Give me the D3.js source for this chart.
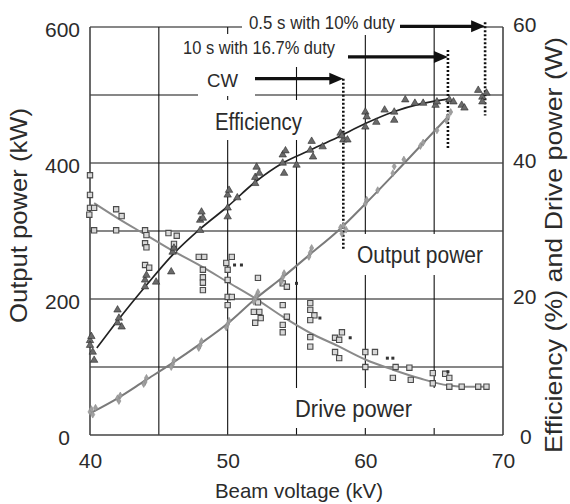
<!DOCTYPE html>
<html>
<head>
<meta charset="UTF-8">
<title>Beam voltage chart</title>
<script src="https://d3js.org/d3.v7.min.js"></script>
<style>
  body { margin: 0; background: #fff; }
  svg { display: block; font-family: "Liberation Sans", Arial, sans-serif; }
  text { fill: #2b2b2b; }
</style>
</head>
<body>
<svg width="570" height="504"></svg>
<script>
// beam voltage (kV) ticks and axis ticks
var xTicks = [40, 50, 60, 70];
var yLeftTicks = [0, 200, 400, 600];
var yRightTicks = [0, 20, 40, 60];

// fitted curves: [kV, value]
var effFit = [[40.5, 12.8], [42, 16.8], [44, 21.8], [46, 26.5], [48, 30.3], [50, 33.6], [52, 37.2],
  [54, 40.0], [56, 41.9], [58, 43.8], [60, 45.8], [62, 47.5], [64, 48.7], [66, 49.4]];
var outFit = [[40.2, 34], [42, 54], [44, 80], [46, 106], [48, 134], [50, 164], [52, 200], [54, 232],
  [56, 266], [58, 300], [60, 340], [62, 382], [64, 425], [66, 468]];
var driveFit = [[40.3, 34.1], [42, 31.9], [44, 29.5], [46, 27.1], [48, 24.9], [50, 22.5], [52, 20.1],
  [54, 17.4], [56, 15.0], [58, 13.1], [60, 11.1], [62, 9.6], [64, 8.3], [66, 7.3], [67, 7.1], [68.8, 7.1]];

// measured points
var effPts = [[40, 13.9], [40, 13.2], [40.2, 12.2], [40.3, 11.0], [40.1, 14.5],
  [42, 18.4], [42, 16.5], [42.3, 15.9], [42.1, 17.2],
  [44, 22.8], [44, 21.8], [44.8, 22.5], [44.1, 23.5],
  [46, 26.9], [45.9, 24.0], [46.1, 27.5],
  [48, 31.6], [48, 30.1], [48.2, 31.9], [48.1, 32.8],
  [50, 35.3], [50, 33.4], [50, 32.1], [50.7, 34.9], [50.1, 36.0],
  [52, 37.9], [52, 37.0], [52.1, 39.4], [52.3, 38.5],
  [54, 41.2], [54, 40.0], [54.1, 38.5], [54.2, 41.8], [55, 39.7],
  [56, 41.9], [56.2, 40.9], [56.9, 42.4], [56.1, 43.2],
  [58.2, 44.4], [58.4, 43.4], [58.7, 43.4], [58.3, 44.0],
  [60, 47.5], [60, 45.3], [60.1, 46.8],
  [60.8, 46.0], [61.4, 47.8], [62.1, 47.5], [62.1, 46.3],
  [62.9, 49.3], [63.6, 48.8], [64.2, 48.8],
  [65.1, 48.5], [65.2, 49.0],
  [66.1, 49.3], [67.0, 48.5], [67.2, 48.1], [66.4, 49.0],
  [68.2, 50.7], [68.5, 49.7], [68.8, 50.3], [68.5, 49.0]];
var outPts = [[40, 34], [40.1, 38], [40.2, 30], [40.4, 40],
  [42, 54], [42.1, 50], [42.2, 58],
  [44, 78], [44.1, 84], [43.9, 75],
  [46, 104], [46.1, 110], [45.9, 100],
  [48, 132], [48.1, 138], [47.9, 128],
  [50, 163], [50.1, 168], [49.9, 158],
  [52, 200], [52.1, 205], [51.9, 196], [52.2, 210],
  [54, 232], [54.1, 238], [53.9, 226],
  [56, 268], [56.1, 275], [55.9, 262],
  [58.2, 305], [58.4, 308], [58.6, 302], [58.3, 296],
  [60, 340], [60.1, 346], [60.9, 360],
  [62, 385], [62.1, 395], [62.8, 405],
  [64, 425], [64.2, 430], [65.2, 448],
  [66, 468], [66.2, 475], [65.9, 462]];
var drivePts = [[40, 38.2], [40, 35.3], [40, 33.4], [40.3, 33.4], [39.95, 32.4], [40.3, 30.1],
  [41.9, 33.2], [42.3, 32.2], [41.9, 30.1],
  [44, 30.1], [44.1, 29.4], [44, 28.2], [44.1, 27.6], [44, 25.0], [44.3, 24.6],
  [45.7, 29.7], [46.3, 29.3], [46.1, 28.1], [46.1, 27.2],
  [47.9, 26.2], [48.3, 26.2], [48.2, 24.3], [48.2, 23.2], [48.2, 22.4], [48.2, 21.3],
  [49.9, 25.3], [50.3, 26.2], [50, 24.3], [50, 22.8], [50, 20.3], [50.3, 20.3], [50, 19.1],
  [52.2, 23.1], [51.9, 18.1], [52.3, 18.1], [52.4, 17.2], [52, 16.5], [52.2, 19.5],
  [54, 19.1], [54.3, 17.4], [54, 16.2], [54, 15.1], [54, 22.3], [54.3, 21.8],
  [56, 19.4], [56, 18.4], [56.3, 17.6], [56, 16.9], [56, 14.4], [56, 13.0],
  [58.3, 15.1], [57.8, 14.3], [58.1, 14.0], [57.8, 12.2], [58.1, 11.3],
  [60, 12.2], [60.7, 12.2], [60, 10.0],
  [62, 8.4], [62.2, 10], [63.2, 9.9], [63.3, 8.1],
  [64.9, 9.1], [64.9, 7.6], [65.8, 9.0],
  [66.1, 8.4], [66.1, 7.1],
  [67, 7.1], [68.2, 7.1], [68.8, 7.1]];
var driveDots = [[50.5, 25.0], [51, 25.0], [55, 22.3], [56.7, 17.2], [58.9, 14.3],
  [61.6, 11.3], [62, 11.3], [66, 9.3]];

// duty limits: label, kV of limit, arrow row (kW), dotted line from/to (kW)
var dutyLabels = ["0.5 s with 10% duty", "10 s with 16.7% duty", "CW"];
var dutyKV = [68.7, 66.0, 58.4];
var dutyRow = [601, 556, 524];
var dutyTop = [607, 566, 524];
var dutyBottom = [470, 422, 272];

var svg = d3.select("svg");
var x = d3.scaleLinear().domain([40, 70]).range([90, 503]);
var yL = d3.scaleLinear().domain([0, 600]).range([435, 27]);
var yR = d3.scaleLinear().domain([0, 60]).range([435, 27]);

// grid
var grid = svg.append("g").attr("stroke", "#111").attr("stroke-width", 1.1);
[45, 50, 55, 60, 65].forEach(function(v) {
  grid.append("line").attr("x1", x(v)).attr("x2", x(v)).attr("y1", yL(600)).attr("y2", yL(0));
});
[100, 200, 300, 400, 500, 600].forEach(function(v) {
  grid.append("line").attr("x1", x(40)).attr("x2", x(70)).attr("y1", yL(v)).attr("y2", yL(v));
});

// white boxes behind labels
var boxes = [[242, 0, 158, 35], [178, 34, 167, 33], [198, 67, 57, 29], [205, 100, 105, 40],
  [348, 234, 144, 41], [285, 388, 160, 40]];
boxes.forEach(function(b) {
  svg.append("rect").attr("x", b[0]).attr("y", b[1]).attr("width", b[2]).attr("height", b[3]).attr("fill", "#fff");
});

// frame
var frame = svg.append("g").attr("stroke", "#444").attr("stroke-width", 1.6).attr("fill", "none");
frame.append("line").attr("x1", x(40)).attr("x2", x(40)).attr("y1", yL(600)).attr("y2", yL(0));
frame.append("line").attr("x1", x(70)).attr("x2", x(70)).attr("y1", yL(600)).attr("y2", yL(0));
frame.append("line").attr("x1", x(40)).attr("x2", x(70)).attr("y1", yL(0)).attr("y2", yL(0));

// axes (labels only)
var fs = 21;
var gL = svg.append("g").attr("transform", "translate(" + x(40) + ",3)")
  .call(d3.axisLeft(yL).tickValues(yLeftTicks).tickSize(0).tickPadding(10));
var gR = svg.append("g").attr("transform", "translate(" + x(70) + ",-2)")
  .call(d3.axisRight(yR).tickValues(yRightTicks).tickSize(0).tickPadding(10));
var gB = svg.append("g").attr("transform", "translate(0," + yL(0) + ")")
  .call(d3.axisBottom(x).tickValues(xTicks).tickSize(0).tickPadding(18));
[gL, gR, gB].forEach(function(g) {
  g.select(".domain").remove();
  g.selectAll("text").attr("font-size", fs).attr("font-family", "Liberation Sans, Arial").attr("fill", "#2b2b2b");
});
gL.selectAll(".tick").filter(function(d) { return d === 0; }).select("text").attr("x", -20);
gR.selectAll(".tick").filter(function(d) { return d === 0; }).select("text").attr("x", 17).attr("dy", "0.5em");

// duty annotations
var ann = svg.append("g");
var textX = [249, 183, 207];
var textLen = [146, 152, 31];
var textBase = [29, 54, 87];
var arrowStart = [400, 348, 255];
dutyLabels.forEach(function(lab, i) {
  ann.append("text").attr("x", textX[i]).attr("y", textBase[i]).attr("font-size", 18)
    .attr("textLength", textLen[i]).attr("lengthAdjust", "spacingAndGlyphs").text(lab);
  var xe = x(dutyKV[i]), yy = yL(dutyRow[i]);
  ann.append("line").attr("x1", arrowStart[i]).attr("x2", xe - 10).attr("y1", yy).attr("y2", yy)
    .attr("stroke", "#111").attr("stroke-width", 3.2);
  ann.append("path").attr("d", "M" + xe + "," + yy + "L" + (xe - 14) + "," + (yy - 6) + "L" + (xe - 14) + "," + (yy + 6) + "Z")
    .attr("fill", "#111");
  ann.append("line").attr("x1", xe).attr("x2", xe).attr("y1", yL(dutyTop[i])).attr("y2", yL(dutyBottom[i]))
    .attr("stroke", "#111").attr("stroke-width", 2.6).attr("stroke-dasharray", "2,2");
});

// fit lines
var lineL = d3.line().x(function(d) { return x(d[0]); }).y(function(d) { return yL(d[1]); }).curve(d3.curveMonotoneX);
var lineR = d3.line().x(function(d) { return x(d[0]); }).y(function(d) { return yR(d[1]); }).curve(d3.curveMonotoneX);
svg.append("path").datum(driveFit).attr("d", lineR).attr("fill", "none").attr("stroke", "#8a8a8a").attr("stroke-width", 2);
svg.append("path").datum(outFit).attr("d", lineL).attr("fill", "none").attr("stroke", "#7a7a7a").attr("stroke-width", 2);
svg.append("path").datum(effFit).attr("d", lineR).attr("fill", "none").attr("stroke", "#222").attr("stroke-width", 1.7);

// points
svg.append("g").selectAll("path").data(drivePts).enter().append("path")
  .attr("d", d3.symbol().type(d3.symbolSquare).size(28))
  .attr("transform", function(d) { return "translate(" + x(d[0]) + "," + yR(d[1]) + ")"; })
  .attr("fill", "#d8d8d8").attr("stroke", "#4a4a4a").attr("stroke-width", 1.1);
svg.append("g").selectAll("rect").data(driveDots).enter().append("rect")
  .attr("x", function(d) { return x(d[0]) - 1.5; }).attr("y", function(d) { return yR(d[1]) - 1.5; })
  .attr("width", 3).attr("height", 3).attr("fill", "#333");
svg.append("g").selectAll("path").data(outPts).enter().append("path")
  .attr("d", d3.symbol().type(d3.symbolDiamond).size(14))
  .attr("transform", function(d) { return "translate(" + x(d[0]) + "," + yL(d[1]) + ")"; })
  .attr("fill", "#a0a0a0").attr("stroke", "#8a8a8a").attr("stroke-width", 0.6);
svg.append("g").selectAll("path").data(effPts).enter().append("path")
  .attr("d", d3.symbol().type(d3.symbolTriangle).size(24))
  .attr("transform", function(d) { return "translate(" + x(d[0]) + "," + yR(d[1]) + ")"; })
  .attr("fill", "#6a6a6a").attr("stroke", "#2a2a2a").attr("stroke-width", 0.6);

// series labels
var labs = [["Efficiency", 215, 130, 87], ["Output power", 357, 263, 126], ["Drive power", 295, 417, 117]];
labs.forEach(function(l) {
  svg.append("text").attr("x", l[1]).attr("y", l[2]).attr("font-size", 23)
    .attr("textLength", l[3]).attr("lengthAdjust", "spacingAndGlyphs").text(l[0]);
});

// axis titles
svg.append("text").attr("x", 299).attr("y", 498).attr("text-anchor", "middle").attr("font-size", 21)
  .attr("textLength", 168).attr("lengthAdjust", "spacingAndGlyphs").text("Beam voltage (kV)");
svg.append("text").attr("transform", "translate(27,215.5) rotate(-90)").attr("text-anchor", "middle")
  .attr("font-size", 24).attr("textLength", 215).attr("lengthAdjust", "spacingAndGlyphs").text("Output power (kW)");
svg.append("text").attr("transform", "translate(562,245) rotate(-90)").attr("text-anchor", "middle")
  .attr("font-size", 24).attr("textLength", 416).attr("lengthAdjust", "spacingAndGlyphs").text("Efficiency (%) and Drive power (W)");
</script>
</body>
</html>
